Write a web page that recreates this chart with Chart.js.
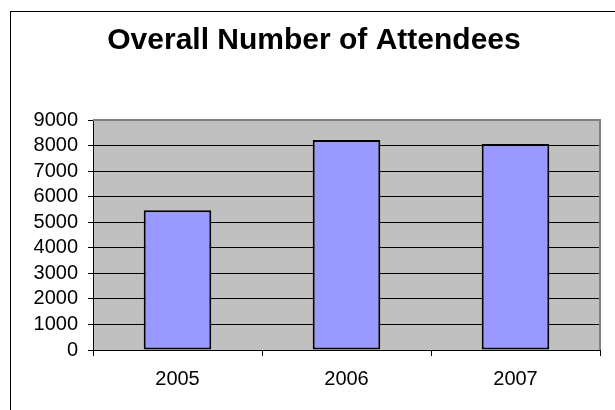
<!DOCTYPE html>
<html>
<head>
<meta charset="utf-8">
<script src="https://cdn.jsdelivr.net/npm/chart.js@4/dist/chart.umd.min.js"></script>
<style>
  html, body { margin: 0; padding: 0; background: #fff; }
  #wrap { width: 615px; height: 410px; }
</style>
</head>
<body>
<div id="wrap"><canvas id="bar-chart" width="615" height="410"></canvas></div>
<script>
// data
const years = ["2005", "2006", "2007"];
const attendees = [5470, 8220, 8060];
const yTicks = [0, 1000, 2000, 3000, 4000, 5000, 6000, 7000, 8000, 9000];

// frame, grey plot background and grey top/right edge, Excel style
const excelFrame = {
  id: 'excelFrame',
  beforeDraw(chart) {
    const ctx = chart.ctx, a = chart.chartArea;
    ctx.save();
    ctx.fillStyle = '#fff';
    ctx.fillRect(0, 0, chart.width, chart.height);
    ctx.strokeStyle = '#000';
    ctx.lineWidth = 1;
    ctx.strokeRect(10.5, 11.5, chart.width + 20, chart.height + 20);
    ctx.fillStyle = '#C0C0C0';
    ctx.fillRect(a.left, a.top, a.right - a.left, a.bottom - a.top);
    ctx.restore();
  },
  afterDraw(chart) {
    const ctx = chart.ctx, a = chart.chartArea;
    ctx.save();
    ctx.strokeStyle = '#808080';
    ctx.lineWidth = 2;
    ctx.beginPath();
    ctx.moveTo(a.left, a.top);
    ctx.lineTo(a.right, a.top);
    ctx.lineTo(a.right, a.bottom);
    ctx.stroke();
    ctx.restore();
  }
};

Chart.defaults.font.family = '"Liberation Sans", Arial, sans-serif';
Chart.defaults.color = '#000';

new Chart(document.getElementById("bar-chart"), {
  type: 'bar',
  data: {
    labels: years,
    datasets: [{
      label: "Attendees",
      data: attendees,
      backgroundColor: '#9999FF',
      borderColor: '#000',
      borderWidth: 2,
      borderSkipped: false,
      barPercentage: 1,
      categoryPercentage: 0.4
    }]
  },
  options: {
    responsive: false,
    animation: false,
    layout: { padding: { left: 28, right: 15, top: 0, bottom: 0 } },
    plugins: {
      legend: { display: false },
      tooltip: { enabled: false },
      title: {
        display: true,
        text: 'Overall Number of Attendees',
        color: '#000',
        font: { size: 30, weight: 'bold' },
        padding: { top: 23, bottom: 61 }
      }
    },
    scales: {
      x: {
        grid: { display: true, drawOnChartArea: false, drawTicks: true, tickLength: 6, color: '#000', offset: true },
        border: { display: true, color: '#000', width: 1 },
        ticks: { font: { size: 20 }, padding: 11, color: '#000' },
        afterFit(scale) { scale.height = 60; }
      },
      y: {
        min: 0,
        max: 9000,
        grid: { color: '#000', lineWidth: 1, tickLength: 5 },
        border: { display: true, color: '#000', width: 1 },
        afterBuildTicks(scale) { scale.ticks = yTicks.map(v => ({ value: v })); },
        ticks: {
          font: { size: 20 },
          padding: 10,
          color: '#000',
          autoSkip: false,
          callback: (v) => String(v)
        },
        afterFit(scale) { scale.width = 65; }
      }
    }
  },
  plugins: [excelFrame]
});
</script>
</body>
</html>
